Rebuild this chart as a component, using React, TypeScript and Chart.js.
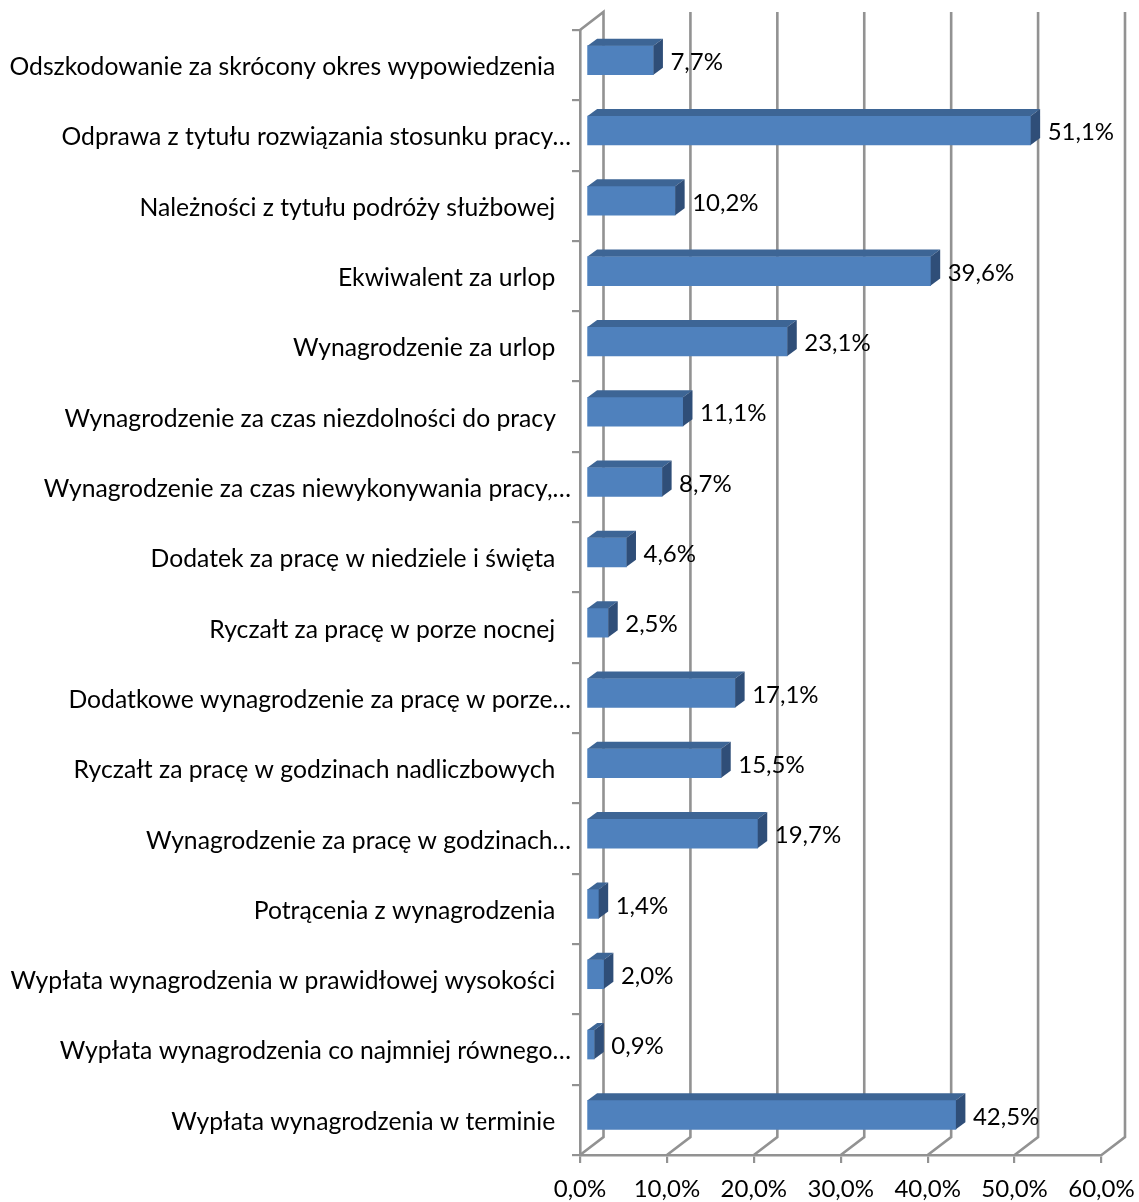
import React, { useEffect, useRef } from "react";
import { Chart, registerables } from "chart.js";

Chart.register(...registerables);

const categories = [
  "Odszkodowanie za skrócony okres wypowiedzenia",
  "Odprawa z tytułu rozwiązania stosunku pracy…",
  "Należności z tytułu podróży służbowej",
  "Ekwiwalent za urlop",
  "Wynagrodzenie za urlop",
  "Wynagrodzenie za czas niezdolności do pracy",
  "Wynagrodzenie za czas niewykonywania pracy,…",
  "Dodatek za pracę w niedziele i święta",
  "Ryczałt za pracę w porze nocnej",
  "Dodatkowe wynagrodzenie za pracę w porze…",
  "Ryczałt za pracę w godzinach nadliczbowych",
  "Wynagrodzenie za pracę w godzinach…",
  "Potrącenia z wynagrodzenia",
  "Wypłata wynagrodzenia w prawidłowej wysokości",
  "Wypłata wynagrodzenia co najmniej równego…",
  "Wypłata wynagrodzenia w terminie",
];
const values = [7.7, 51.1, 10.2, 39.6, 23.1, 11.1, 8.7, 4.6, 2.5, 17.1, 15.5, 19.7, 1.4, 2.0, 0.9, 42.5];
const xTicks = [0, 10, 20, 30, 40, 50, 60];

const FONT = "Lato, Carlito, sans-serif";
const FONT_SIZE = 24;
const CAT_FONT_SIZE = 24.7;
const GRID = "#929292";
const WALL_DX = 23.5;
const WALL_DY = -18;
const BAR_DX = 6.5;
const BAR_DY = -5;
const DEPTH_X = 9.5;
const DEPTH_Y = -7;

const fmt = (v: number) => v.toFixed(1).replace(".", ",") + "%";

const poly = (ctx: CanvasRenderingContext2D, pts: number[][], fill: string) => {
  ctx.beginPath();
  pts.forEach(([x, y], i) => (i ? ctx.lineTo(x, y) : ctx.moveTo(x, y)));
  ctx.closePath();
  ctx.fillStyle = fill;
  ctx.fill();
};

const walls = {
  id: "walls",
  beforeDatasetsDraw(chart: any) {
    const { ctx, chartArea, scales } = chart;
    ctx.save();
    ctx.strokeStyle = GRID;
    ctx.lineWidth = 2.6;
    xTicks.forEach((t) => {
      const x = scales.x.getPixelForValue(t);
      ctx.beginPath();
      ctx.moveTo(x, chartArea.bottom);
      ctx.lineTo(x + WALL_DX, chartArea.bottom + WALL_DY);
      ctx.lineTo(x + WALL_DX, chartArea.top + WALL_DY);
      if (t === 0) ctx.lineTo(x, chartArea.top);
      ctx.stroke();
    });
    ctx.restore();
  },
};

const bars3d = {
  id: "bars3d",
  beforeDatasetDraw(chart: any) {
    chart.ctx.save();
    chart.ctx.translate(BAR_DX, BAR_DY);
  },
  afterDatasetDraw(chart: any) {
    const { ctx } = chart;
    ctx.restore();
    const meta = chart.getDatasetMeta(0);
    ctx.save();
    meta.data.forEach((bar: any, i: number) => {
      const l = bar.base + BAR_DX;
      const r = bar.x + BAR_DX;
      const t = bar.y - bar.height / 2 + BAR_DY;
      const b = bar.y + bar.height / 2 + BAR_DY;
      poly(ctx, [[l, t], [l + DEPTH_X, t + DEPTH_Y], [r + DEPTH_X, t + DEPTH_Y], [r, t]], "#3d6595");
      poly(ctx, [[r, t], [r + DEPTH_X, t + DEPTH_Y], [r + DEPTH_X, b + DEPTH_Y], [r, b]], "#2f4e78");
      ctx.fillStyle = "#000";
      ctx.font = `${FONT_SIZE}px ${FONT}`;
      ctx.textAlign = "left";
      ctx.textBaseline = "middle";
      ctx.fillText(fmt(values[i]), r + 17, bar.y - 3);
    });
    ctx.restore();
  },
};

export default function App() {
  const ref = useRef<HTMLCanvasElement>(null);
  useEffect(() => {
    document.body.style.margin = "0";
    const chart = new Chart(ref.current!, {
      type: "bar",
      data: {
        labels: categories,
        datasets: [
          {
            data: values,
            backgroundColor: "#4f81bd",
            borderWidth: 0,
            barThickness: 29,
            clip: false as any,
          },
        ],
      },
      options: {
        indexAxis: "y",
        animation: false,
        responsive: false,
        layout: { padding: { top: 30, right: 37.5, left: 0, bottom: 0 } },
        plugins: { legend: { display: false }, tooltip: { enabled: false } },
        scales: {
          x: {
            min: 0,
            max: 60,
            afterFit: (s: any) => { s.height = 47; s.paddingLeft = 0; s.paddingRight = 0; },
            afterBuildTicks: (s: any) => { s.ticks = xTicks.map((value) => ({ value })); },
            border: { color: GRID, width: 2.6 },
            grid: { drawOnChartArea: false, color: GRID, lineWidth: 2.2, tickLength: 8 },
            ticks: {
              color: "#000",
              padding: 12,
              maxRotation: 0,
              font: { family: FONT, size: FONT_SIZE },
              callback: (v: any) => fmt(Number(v)),
            },
          },
          y: {
            afterFit: (s: any) => { s.width = 580; },
            border: { color: GRID, width: 2.6 },
            grid: { drawOnChartArea: false, color: GRID, lineWidth: 2.2, tickLength: 8 },
            ticks: {
              color: "#000",
              padding: 1,
              labelOffset: 2,
              autoSkip: false,
              font: { family: FONT, size: CAT_FONT_SIZE },
              callback: (_: any, i: number) => {
                const l = categories[i];
                return l.endsWith("…") ? l : l + "\u00A0\u00A0\u2009";
              },
            },
          },
        },
      },
      plugins: [walls, bars3d],
    } as any);
    return () => chart.destroy();
  }, []);
  return <canvas ref={ref} width={1139} height={1202} style={{ display: "block" }} />;
}
